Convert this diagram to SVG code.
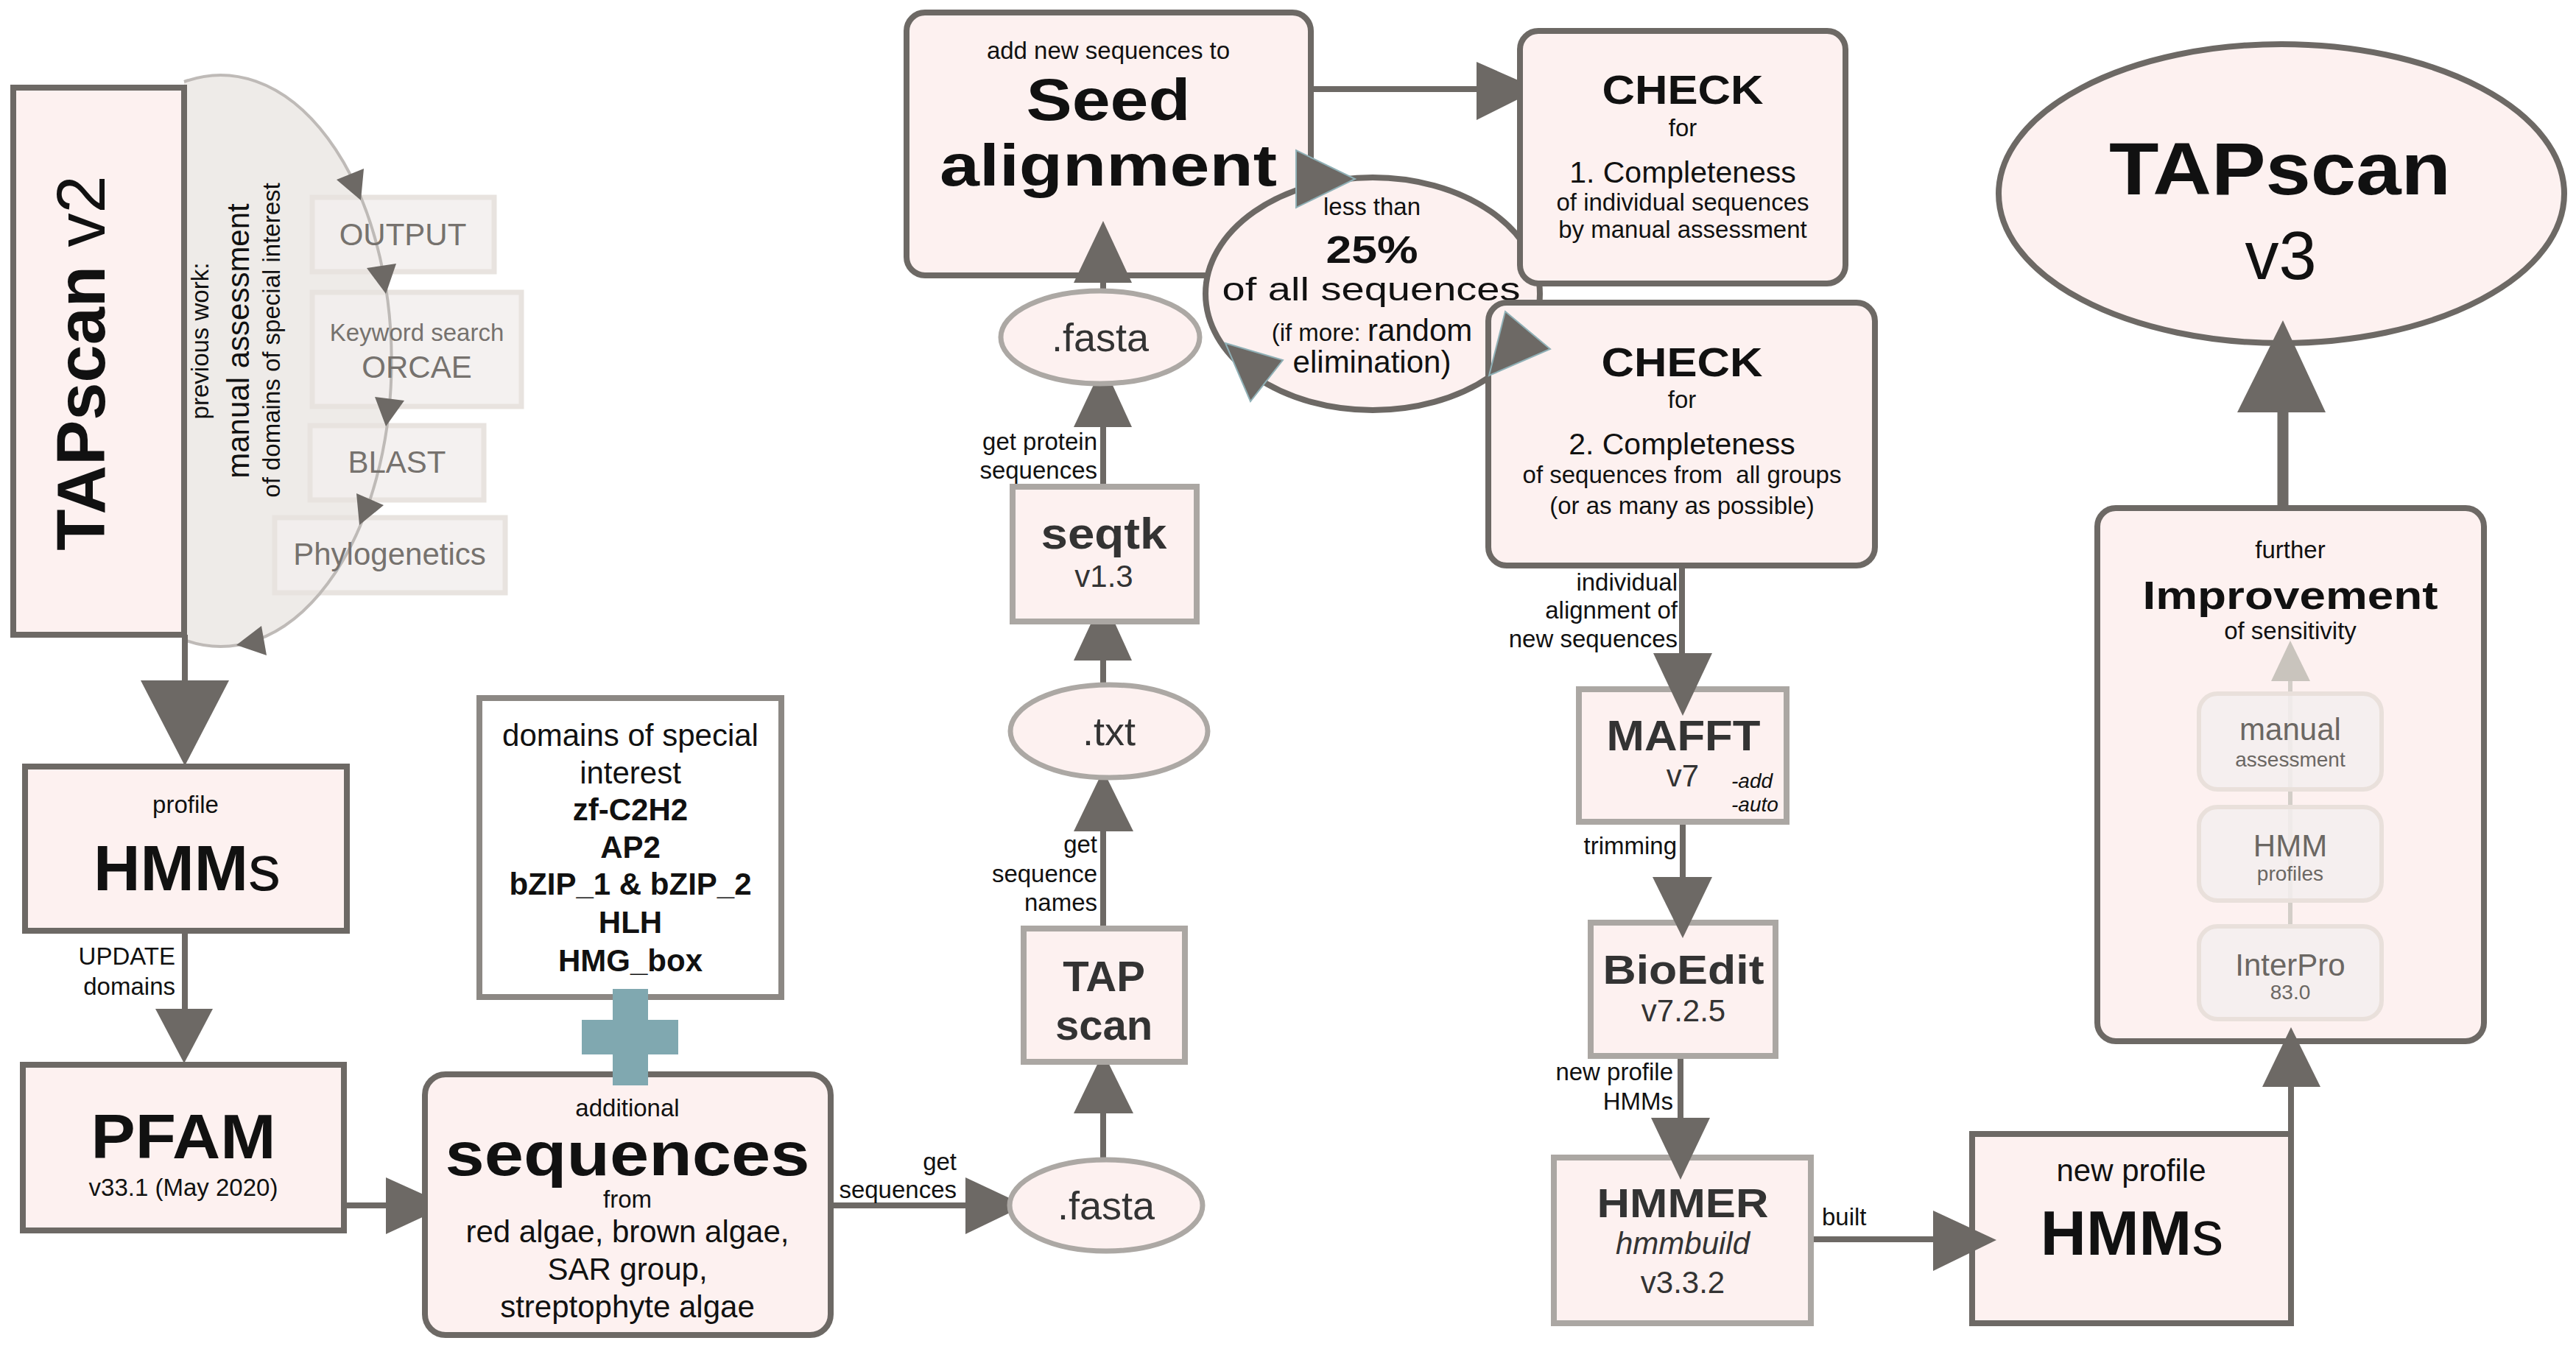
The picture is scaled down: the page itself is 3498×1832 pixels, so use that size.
<svg xmlns="http://www.w3.org/2000/svg" width="3498" height="1832" viewBox="0 0 3498 1832">
<style>
text{font-family:"Liberation Sans",Arial,sans-serif;fill:#111}
.b{font-weight:bold}
.c{text-anchor:middle}
.r{text-anchor:end}
.g3{fill:#333}
.f28{font-size:28px}.f33{font-size:33px}.f42{font-size:42px}.f54{font-size:54px}
.nd{fill:#fdf1f0;stroke:#6d6965;stroke-width:8}
.nl{fill:#fdf1f0;stroke:#aba7a3;stroke-width:8}
.ghost{fill:#f2efed;fill-opacity:0.85;stroke:#e8e3df;stroke-width:7}
.gt{fill:#76726e}
.e{stroke:#6d6965;stroke-width:8;fill:none}
.h{fill:#6d6965}
.hc{fill:#6d6965;stroke:#8fb0b6;stroke-width:2}
.sub{fill:#f3efee;fill-opacity:0.85;stroke:#e9e0db;stroke-width:6}
.st{fill:#6b6763}
</style>

<!-- previous work area -->
<g id="previous-work">
<path d="M250,111 A232,388 0 1 1 250,869 Z" fill="#eeebe8" stroke="none"/>
<rect class="ghost" x="424" y="268" width="247" height="101"/>
<rect class="ghost" x="424" y="397" width="284" height="155"/>
<rect class="ghost" x="421" y="578" width="236" height="101"/>
<rect class="ghost" x="373" y="703" width="313" height="102"/>
<path d="M250,111 A232,388 0 1 1 250,869" fill="none" stroke="#b8b4b0" stroke-width="4" stroke-opacity="0.9"/>
<polygon class="h" points="494,229 457,244 490,272"/>
<polygon class="h" points="538,358 498,364 524,399"/>
<polygon class="h" points="549,544 509,539 524,579"/>
<polygon class="h" points="521,686 484,670 488,713"/>
<polygon class="h" points="362,890 355,850 321,876"/>
<text class="gt f42 c" x="547" y="333">OUTPUT</text>
<text class="gt f33 c" x="566" y="463">Keyword search</text>
<text class="gt f42 c" x="566" y="513">ORCAE</text>
<text class="gt f42 c" x="539" y="642">BLAST</text>
<text class="gt f42 c" x="529" y="767">Phylogenetics</text>
<text class="f33 c" transform="translate(283,463) rotate(-90)">previous work:</text>
<text class="f42 c" transform="translate(338,463) rotate(-90)">manual assessment</text>
<text class="f33 c" transform="translate(380,462) rotate(-90)">of domains of special interest</text>
</g>

<g id="tapscan-v2">
<rect class="nd" x="18" y="119" width="232" height="743"/>
<text class="c" font-size="92" transform="translate(142,493) rotate(-90)"><tspan class="b">TAPscan</tspan> v2</text>
</g>

<!-- connectors -->
<g id="connectors">
<line class="e" x1="251" y1="862" x2="251" y2="926"/>
<polygon class="h" points="191,924 311,924 251,1040"/>
<line class="e" x1="251" y1="1264" x2="251" y2="1372"/>
<polygon class="h" points="211,1370 289,1370 250,1444"/>
<line class="e" x1="467" y1="1637" x2="526" y2="1637"/>
<polygon class="h" points="524,1599 524,1676 608,1637"/>
<line class="e" x1="1128" y1="1637" x2="1313" y2="1637"/>
<polygon class="h" points="1311,1599 1311,1676 1392,1637"/>
<line class="e" x1="1498" y1="1575" x2="1498" y2="1510"/>
<polygon class="h" points="1458,1512 1539,1512 1498,1429"/>
<line class="e" x1="1498" y1="1261" x2="1498" y2="1127"/>
<polygon class="h" points="1458,1129 1539,1129 1498,1046"/>
<line class="e" x1="1498" y1="930" x2="1498" y2="895"/>
<polygon class="h" points="1458,897 1537,897 1498,811"/>
<line class="e" x1="1498" y1="661" x2="1498" y2="578"/>
<polygon class="h" points="1458,580 1537,580 1498,495"/>
<line class="e" x1="1498" y1="395" x2="1498" y2="382"/>
<line class="e" x1="1780" y1="121" x2="2007" y2="121"/>
<polygon class="h" points="2005,84 2005,163 2089,121"/>
<line class="e" x1="2284" y1="768" x2="2284" y2="889"/>
<line class="e" x1="2285" y1="1116" x2="2285" y2="1193"/>
<line class="e" x1="2282" y1="1434" x2="2282" y2="1520"/>
<line class="e" x1="2459" y1="1683" x2="2627" y2="1683"/>
<line class="e" x1="3111" y1="1540" x2="3111" y2="1474"/>
<line stroke="#6d6965" stroke-width="15" x1="3100" y1="690" x2="3100" y2="556"/>
</g>

<g id="hmms-profile">
<rect class="nd" x="34" y="1041" width="437" height="223"/>
<text class="f33 c" x="252" y="1104">profile</text>
<text class="c" x="254" y="1209" font-size="88"><tspan class="b">HMM</tspan>s</text>
</g>
<g id="label-update">
<text class="f33 r" x="238" y="1310">UPDATE</text>
<text class="f33 r" x="238" y="1351">domains</text>
</g>

<g id="pfam">
<rect class="nd" x="31" y="1446" width="436" height="225"/>
<text class="b c" x="249" y="1573" font-size="86" textLength="251" lengthAdjust="spacingAndGlyphs">PFAM</text>
<text class="f33 c" x="249" y="1624">v33.1 (May 2020)</text>
</g>

<g id="domains">
<rect x="651" y="948" width="410" height="406" fill="#fff" stroke="#8c8884" stroke-width="8"/>
<text class="f42 c" x="856" y="1013">domains of special</text>
<text class="f42 c" x="856" y="1064">interest</text>
<text class="f42 c b" x="856" y="1114">zf-C2H2</text>
<text class="f42 c b" x="856" y="1165">AP2</text>
<text class="f42 c b" x="856" y="1215">bZIP_1 &amp; bZIP_2</text>
<text class="f42 c b" x="856" y="1267">HLH</text>
<text class="f42 c b" x="856" y="1319">HMG_box</text>
</g>

<g id="sequences">
<rect class="nd" x="577" y="1459" width="551" height="354" rx="28"/>
<text class="f33 c" x="852" y="1516">additional</text>
<text class="b c" x="852" y="1596" font-size="84" textLength="495" lengthAdjust="spacingAndGlyphs">sequences</text>
<text class="f33 c" x="852" y="1640">from</text>
<text class="f42 c" x="852" y="1687">red algae, brown algae,</text>
<text class="f42 c" x="852" y="1738">SAR group,</text>
<text class="f42 c" x="852" y="1789">streptophyte algae</text>
</g>

<g id="plus">
<rect x="832" y="1343" width="48" height="131" fill="#80a8b0"/>
<rect x="790" y="1385" width="131" height="47" fill="#80a8b0"/>
</g>

<g id="label-get-sequences">
<text class="f33 r" x="1299" y="1589">get</text>
<text class="f33 r" x="1299" y="1627">sequences</text>
</g>

<g id="fasta-bottom">
<ellipse cx="1502" cy="1637" rx="131" ry="62" fill="#fdf1f0" stroke="#aca8a4" stroke-width="7"/>
<text class="f54 c g3" x="1502" y="1656">.fasta</text>
</g>

<g id="tapscan-tool">
<rect class="nl" x="1390" y="1261" width="219" height="181"/>
<text class="b c g3" x="1499" y="1346" font-size="58">TAP</text>
<text class="b c g3" x="1499" y="1412" font-size="58">scan</text>
</g>

<g id="label-get-names">
<text class="f33 r" x="1490" y="1158">get</text>
<text class="f33 r" x="1490" y="1198">sequence</text>
<text class="f33 r" x="1490" y="1237">names</text>
</g>

<g id="txt">
<ellipse cx="1506" cy="993" rx="134" ry="63" fill="#fdf1f0" stroke="#aca8a4" stroke-width="7"/>
<text class="f54 c g3" x="1506" y="1012">.txt</text>
</g>

<g id="seqtk">
<rect class="nl" x="1375" y="661" width="250" height="183"/>
<text class="b c g3" x="1499" y="745" font-size="60" textLength="171" lengthAdjust="spacingAndGlyphs">seqtk</text>
<text class="f42 c g3" x="1499" y="797">v1.3</text>
</g>

<g id="label-get-protein">
<text class="f33 r" x="1490" y="611">get protein</text>
<text class="f33 r" x="1490" y="650">sequences</text>
</g>

<g id="fasta-top">
<ellipse cx="1494" cy="458" rx="135" ry="63" fill="#fdf1f0" stroke="#aca8a4" stroke-width="7"/>
<text class="f54 c g3" x="1494" y="477">.fasta</text>
</g>

<g id="seed-alignment">
<rect class="nd" x="1231" y="17" width="549" height="357" rx="25"/>
<text class="f33 c" x="1505" y="80">add new sequences to</text>
<text class="b c" x="1505" y="163" font-size="80" textLength="223" lengthAdjust="spacingAndGlyphs">Seed</text>
<text class="b c" x="1505" y="252" font-size="80" textLength="458" lengthAdjust="spacingAndGlyphs">alignment</text>
</g>
<polygon class="h" points="1458,384 1537,384 1498,300"/>

<g id="less-than-25">
<ellipse cx="1864" cy="399" rx="227" ry="158" fill="#fdf1f0" stroke="#6d6965" stroke-width="8"/>
<text class="f33 c" x="1863" y="292">less than</text>
<text class="b c" x="1863" y="357" font-size="52" textLength="125" lengthAdjust="spacingAndGlyphs">25%</text>
<text class="c" x="1862" y="408" font-size="45" textLength="405" lengthAdjust="spacingAndGlyphs">of all sequences</text>
<text class="c" x="1863" y="463"><tspan class="f33">(if more: </tspan><tspan class="f42">random</tspan></text>
<text class="f42 c" x="1863" y="506">elimination)</text>
</g>
<polygon class="hc" points="1760,204 1760,282 1840,243"/>
<polygon class="hc" points="1664,466 1742,489 1698,545"/>

<g id="check1">
<rect class="nd" x="2064" y="42" width="442" height="343" rx="25"/>
<text class="b c" x="2285" y="141" font-size="56" textLength="219" lengthAdjust="spacingAndGlyphs">CHECK</text>
<text class="f33 c" x="2285" y="185">for</text>
<text class="c" x="2285" y="248" font-size="41">1. Completeness</text>
<text class="f33 c" x="2285" y="286">of individual sequences</text>
<text class="f33 c" x="2285" y="323">by manual assessment</text>
</g>

<g id="check2">
<rect class="nd" x="2021" y="411" width="525" height="357" rx="25"/>
<text class="b c" x="2284" y="511" font-size="56" textLength="219" lengthAdjust="spacingAndGlyphs">CHECK</text>
<text class="f33 c" x="2284" y="554">for</text>
<text class="c" x="2284" y="617" font-size="41">2. Completeness</text>
<text class="f33 c" x="2284" y="656" style="white-space:pre">of sequences from  all groups</text>
<text class="f33 c" x="2284" y="698">(or as many as possible)</text>
</g>
<polygon class="hc" points="2044,423 2105,474 2022,510"/>

<g id="label-individual">
<text class="f33 r" x="2278" y="802">individual</text>
<text class="f33 r" x="2278" y="840">alignment of</text>
<text class="f33 r" x="2278" y="879">new sequences</text>
</g>

<g id="mafft">
<rect class="nl" x="2144" y="936" width="282" height="180"/>
<text class="b c g3" x="2286" y="1019" font-size="58" textLength="209" lengthAdjust="spacingAndGlyphs">MAFFT</text>
<text class="f42 c g3" x="2285" y="1068">v7</text>
<text class="f28" x="2351" y="1070" font-style="italic">-add</text>
<text class="f28" x="2351" y="1102" font-style="italic">-auto</text>
</g>
<polygon class="h" points="2245,887 2325,887 2285,972"/>

<g id="label-trimming">
<text class="f33 r" x="2277" y="1160">trimming</text>
</g>

<g id="bioedit">
<rect class="nl" x="2160" y="1253" width="251" height="181"/>
<text class="b c g3" x="2286" y="1336" font-size="56" textLength="219" lengthAdjust="spacingAndGlyphs">BioEdit</text>
<text class="f42 c g3" x="2286" y="1387">v7.2.5</text>
</g>
<polygon class="h" points="2244,1191 2325,1191 2285,1274"/>

<g id="label-new-profile">
<text class="f33 r" x="2272" y="1467">new profile</text>
<text class="f33 r" x="2272" y="1507">HMMs</text>
</g>

<g id="hmmer">
<rect class="nl" x="2110" y="1572" width="349" height="225"/>
<text class="b c g3" x="2285" y="1653" font-size="56" textLength="233" lengthAdjust="spacingAndGlyphs">HMMER</text>
<text class="f42 c g3" x="2285" y="1703" font-style="italic">hmmbuild</text>
<text class="f42 c g3" x="2285" y="1756">v3.3.2</text>
</g>
<polygon class="h" points="2242,1518 2322,1518 2282,1602"/>

<g id="label-built">
<text class="f33" x="2474" y="1664">built</text>
</g>

<g id="new-hmms">
<rect class="nd" x="2678" y="1540" width="433" height="257"/>
<text class="f42 c" x="2894" y="1604">new profile</text>
<text class="c" x="2895" y="1704" font-size="86"><tspan class="b">HMM</tspan>s</text>
</g>
<polygon class="h" points="2625,1644 2625,1726 2711,1684"/>

<g id="improvement">
<rect class="nd" x="2848" y="690" width="525" height="724" rx="25"/>
<text class="f33 c" x="3110" y="758">further</text>
<text class="b c" x="3110" y="827" font-size="54" textLength="401" lengthAdjust="spacingAndGlyphs">Improvement</text>
<text class="f33 c" x="3110" y="868">of sensitivity</text>
<line x1="3110" y1="1258" x2="3110" y2="922" stroke="#d3cec8" stroke-width="6"/>
<polygon points="3084,925 3137,925 3110,870" fill="#c9c4bd"/>
<rect class="sub" x="2986" y="942" width="248" height="130" rx="25"/>
<rect class="sub" x="2986" y="1096" width="248" height="127" rx="25"/>
<rect class="sub" x="2986" y="1258" width="248" height="126" rx="25"/>
<text class="f42 c st" x="3110" y="1005">manual</text>
<text class="f28 c st" x="3110" y="1041">assessment</text>
<text class="f42 c st" x="3110" y="1163">HMM</text>
<text class="f28 c st" x="3110" y="1196">profiles</text>
<text class="f42 c st" x="3110" y="1325">InterPro</text>
<text class="f28 c st" x="3110" y="1357">83.0</text>
</g>
<polygon class="h" points="3072,1476 3151,1476 3111,1395"/>

<g id="tapscan-v3">
<ellipse cx="3098" cy="263" rx="384" ry="203" fill="#fdf1f0" stroke="#6d6965" stroke-width="8"/>
<text class="b c" x="3096" y="264" font-size="100" textLength="464" lengthAdjust="spacingAndGlyphs">TAPscan</text>
<text class="c" x="3097" y="379" font-size="92">v3</text>
</g>
<polygon class="h" points="3038,560 3158,560 3100,435"/>
</svg>
